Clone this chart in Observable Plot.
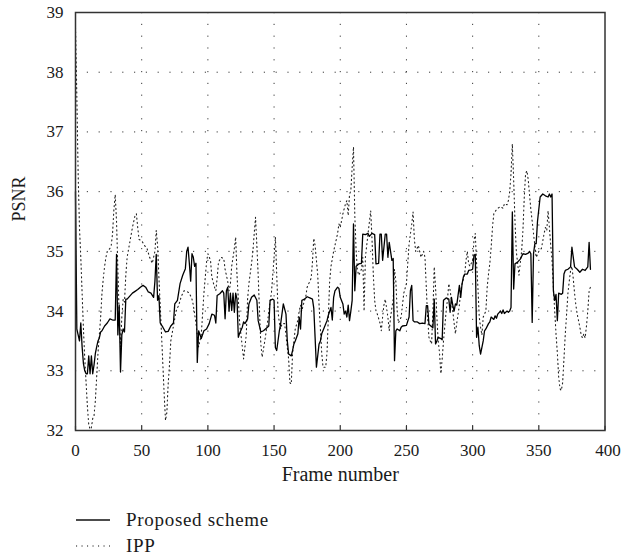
<!DOCTYPE html>
<html>
<head>
<meta charset="utf-8">
<script src="https://cdn.jsdelivr.net/npm/d3@7"></script>
<script src="https://cdn.jsdelivr.net/npm/@observablehq/plot@0.6"></script>
<style>
  body { margin: 0; background: #fff; }
  #wrap { position: relative; width: 622px; height: 560px; font-family: "Liberation Serif", "Times New Roman", serif; color: #1a1a1a; }
  #legend { position: absolute; left: 76px; top: 507px; }
  .row { display: flex; align-items: center; height: 26px; font-size: 19px; letter-spacing: 0.7px; }
  .row svg { margin-right: 16px; }
</style>
</head>
<body>
<div id="wrap">
  <div id="chart"></div>
  <div id="legend"></div>
</div>
<script>
const xTicks = [0, 50, 100, 150, 200, 250, 300, 350, 400];
const yTicks = [32, 33, 34, 35, 36, 37, 38, 39];
const xLabel = "Frame number";
const yLabel = "PSNR";
const seriesNames = ["Proposed scheme", "IPP"];

// [frame, PSNR]
const proposed = [[0,36.0],[1,33.7],[2,33.6],[3,33.5],[4,33.8],[5,33.4],[6,33.12],[7,33.0],[8,32.95],[9,32.95],[10,33.25],[11,32.95],[12,33.25],[13,32.95],[14,33.1],[15,33.29],[16,33.4],[17,33.5],[18,33.55],[19,33.65],[20,33.67],[22,33.75],[24,33.8],[26,33.87],[28,33.85],[30,33.85],[31,34.95],[32,33.6],[33,34.1],[34,32.98],[35,33.6],[36,33.7],[37,33.65],[38,34.2],[39,34.2],[41,34.25],[43,34.3],[45,34.33],[47,34.36],[49,34.4],[51,34.43],[53,34.4],[55,34.32],[57,34.3],[59,34.23],[60,34.5],[61,34.95],[62,34.18],[63,34.26],[64,33.8],[66,33.73],[68,33.65],[70,33.66],[72,33.75],[74,33.8],[75,34.12],[77,34.18],[79,34.46],[81,34.6],[83,34.71],[84,35.0],[85,35.07],[86,34.8],[87,34.5],[88,34.96],[89,34.9],[90,34.75],[91,34.8],[92,33.14],[93,33.67],[95,33.54],[97,33.67],[99,33.7],[101,33.79],[103,33.95],[105,33.93],[106,33.8],[107,34.26],[109,34.29],[111,34.34],[112,34.3],[113,33.87],[114,34.34],[115,34.4],[116,34.0],[117,34.3],[118,34.01],[119,34.3],[120,33.98],[121,34.3],[122,34.2],[123,33.56],[124,33.63],[126,33.73],[127,33.82],[128,33.79],[130,33.87],[131,34.12],[133,34.23],[135,34.27],[137,34.18],[138,33.84],[140,33.65],[142,33.67],[145,33.73],[146,33.75],[147,34.18],[149,34.2],[150,34.18],[151,33.39],[152,33.34],[154,33.67],[155,33.79],[157,34.12],[159,33.95],[160,33.5],[161,33.28],[163,33.25],[164,33.34],[165,33.45],[166,33.5],[168,33.62],[169,33.9],[170,33.7],[171,34.18],[173,34.2],[175,34.24],[177,34.22],[179,34.2],[180,34.05],[181,33.56],[182,33.06],[184,33.45],[185,33.5],[186,33.62],[188,33.73],[190,33.84],[191,33.93],[193,34.06],[194,33.85],[195,34.23],[196,34.34],[198,34.4],[199,34.38],[200,34.23],[202,34.12],[203,33.95],[204,34.0],[205,33.9],[206,34.1],[207,33.84],[208,34.0],[209,34.18],[210,35.46],[211,34.34],[212,34.75],[214,34.79],[216,34.8],[217,35.29],[219,35.28],[221,35.3],[222,35.25],[224,35.3],[226,35.28],[227,34.79],[229,34.8],[230,35.29],[231,35.29],[232,34.85],[234,35.29],[235,35.29],[236,34.9],[237,35.15],[239,34.85],[240,34.88],[241,33.17],[242,33.67],[243,33.7],[245,33.67],[246,33.73],[247,33.75],[250,33.76],[252,33.9],[253,34.34],[254,34.43],[255,33.84],[256,33.82],[258,33.82],[260,33.79],[262,33.8],[264,33.79],[265,34.09],[266,34.09],[267,33.78],[268,33.76],[270,33.72],[271,34.2],[272,33.45],[273,33.5],[274,33.56],[276,33.54],[277,33.52],[278,34.18],[280,34.22],[282,34.2],[283,33.98],[284,34.23],[285,34.1],[286,34.0],[287,34.12],[288,34.1],[290,34.43],[291,34.23],[292,34.45],[293,34.57],[294,34.62],[296,34.62],[297,34.68],[299,34.69],[300,34.7],[301,34.93],[302,34.95],[303,33.56],[304,33.73],[305,33.42],[306,33.28],[308,33.5],[309,33.67],[310,33.7],[312,33.79],[313,33.82],[314,33.9],[316,33.86],[317,33.92],[318,33.88],[319,33.95],[321,34.0],[322,33.96],[323,34.02],[324,33.96],[326,34.0],[327,33.98],[328,34.0],[329,34.06],[330,35.66],[331,34.37],[332,34.79],[334,34.82],[336,34.87],[338,34.96],[340,34.95],[342,34.97],[343,35.0],[344,34.96],[345,33.81],[346,34.96],[347,35.13],[348,35.13],[349,35.5],[351,35.91],[353,35.96],[355,35.93],[357,35.91],[358,35.96],[359,35.91],[360,35.96],[361,34.34],[362,34.18],[363,34.28],[364,33.84],[365,34.3],[367,34.28],[368,34.3],[369,34.62],[370,34.68],[372,34.7],[374,34.74],[375,35.07],[377,34.74],[379,34.7],[381,34.65],[383,34.7],[385,34.68],[387,34.74],[388,35.15],[389,34.7]];

const ipp = [[0,38.75],[1,37.6],[2,36.3],[3,35.4],[4,34.9],[5,34.3],[6,33.7],[7,33.2],[8,32.8],[9,32.4],[10,32.1],[11,32.02],[12,32.05],[13,32.2],[14,32.25],[15,32.5],[16,32.9],[17,33.3],[18,33.6],[19,33.9],[20,34.3],[21,34.55],[22,34.75],[23,34.9],[24,35.0],[26,35.05],[27,35.1],[28,35.3],[29,35.7],[30,35.95],[31,35.5],[32,34.7],[33,33.95],[34,33.4],[35,33.9],[36,34.2],[37,34.15],[38,34.6],[39,34.9],[41,35.15],[43,35.4],[45,35.6],[46,35.63],[47,35.4],[48,35.2],[50,35.18],[52,35.1],[54,35.05],[56,34.9],[58,34.8],[60,35.0],[61,35.35],[62,35.1],[63,34.57],[64,34.1],[65,33.6],[66,33.1],[67,32.6],[68,32.17],[69,32.3],[70,32.78],[71,33.1],[72,33.5],[74,33.75],[76,34.0],[78,34.1],[80,34.25],[82,34.34],[84,34.33],[86,34.3],[88,34.2],[89,34.1],[91,33.8],[93,33.4],[95,33.6],[97,34.3],[99,34.82],[100,34.96],[102,34.85],[103,34.57],[105,34.4],[106,34.34],[107,34.55],[108,34.82],[110,34.9],[112,34.88],[113,34.7],[115,34.5],[116,34.34],[117,34.45],[118,34.75],[120,35.05],[121,35.24],[122,34.6],[123,34.2],[124,33.8],[126,33.4],[127,33.2],[129,33.6],[130,34.2],[131,34.46],[133,34.8],[134,35.0],[135,35.3],[136,35.57],[137,35.1],[138,34.6],[139,34.0],[140,33.45],[141,33.23],[143,33.5],[144,33.65],[145,33.8],[146,34.0],[148,34.3],[149,34.6],[150,34.9],[151,35.24],[152,34.62],[153,34.0],[154,33.8],[155,33.7],[156,33.79],[158,33.79],[160,33.39],[161,33.2],[162,32.8],[163,32.78],[164,33.3],[165,33.5],[166,33.7],[168,33.85],[169,34.0],[170,34.1],[171,34.0],[172,34.1],[174,34.25],[175,34.4],[176,34.45],[178,34.55],[179,34.82],[180,35.22],[181,35.1],[183,34.6],[184,34.1],[185,33.7],[186,33.3],[187,33.06],[189,33.06],[190,33.3],[191,33.9],[192,34.5],[193,34.75],[195,35.0],[196,35.1],[198,35.3],[199,35.46],[200,35.4],[202,35.63],[204,35.8],[205,35.85],[206,35.6],[207,35.95],[208,36.02],[209,36.41],[210,36.75],[211,35.6],[212,35.01],[213,34.68],[214,34.6],[216,34.7],[217,34.9],[218,34.0],[219,34.9],[221,35.3],[223,35.68],[224,35.2],[225,34.6],[226,34.18],[227,34.0],[228,33.95],[230,33.8],[231,33.67],[232,33.9],[233,34.1],[234,34.2],[236,33.9],[237,33.67],[238,33.9],[240,34.2],[241,34.7],[242,34.5],[243,34.0],[244,33.8],[246,33.9],[248,34.3],[250,34.46],[251,34.8],[252,35.13],[254,35.45],[255,35.66],[256,35.2],[257,35.0],[259,35.1],[260,35.0],[261,34.9],[263,35.0],[264,34.9],[265,34.4],[266,33.9],[267,33.56],[268,33.5],[269,33.45],[270,34.0],[271,34.74],[272,34.4],[273,33.9],[274,33.5],[275,33.3],[276,32.95],[277,33.2],[278,33.5],[280,34.0],[281,34.2],[282,34.46],[283,34.35],[285,34.0],[286,33.8],[287,33.62],[288,33.8],[290,34.1],[291,34.34],[292,34.45],[294,34.62],[295,34.85],[296,35.0],[297,34.79],[298,34.75],[300,34.85],[301,35.18],[302,35.3],[303,34.8],[304,34.4],[305,33.9],[306,33.73],[307,33.6],[308,33.9],[310,34.0],[311,34.4],[312,34.62],[313,34.8],[314,35.07],[315,35.4],[316,35.63],[318,35.7],[319,35.72],[321,35.75],[323,35.72],[324,35.8],[326,35.78],[327,35.85],[328,36.0],[329,36.3],[330,36.8],[331,36.2],[332,35.5],[333,35.0],[334,34.8],[335,34.6],[337,35.0],[338,35.35],[339,35.9],[340,36.3],[341,36.35],[342,36.2],[343,35.95],[344,35.7],[346,35.3],[347,35.1],[348,34.9],[350,35.0],[352,35.05],[354,35.3],[355,35.4],[356,35.35],[357,35.68],[358,35.4],[359,35.1],[360,34.85],[361,34.4],[362,34.0],[363,33.62],[364,33.3],[365,32.9],[366,32.7],[367,32.67],[368,32.8],[369,33.2],[370,33.62],[371,33.95],[372,34.3],[373,34.5],[374,34.68],[375,34.75],[376,34.55],[377,34.3],[378,34.1],[379,33.95],[380,33.84],[381,33.73],[382,33.6],[383,33.55],[384,33.62],[385,33.55],[386,33.75],[387,34.0],[388,34.34],[389,34.4]];

const toRows = arr => arr.map(([frame, psnr]) => ({frame, psnr}));

const font = "Liberation Serif";
const gridStyle = {stroke: "#3a3a3a", strokeOpacity: 1, strokeWidth: 1, strokeDasharray: "1.2,10.6"};

const chart = Plot.plot({
  width: 622,
  height: 495,
  marginLeft: 75,
  marginRight: 17.5,
  marginTop: 12,
  marginBottom: 65,
  x: {domain: [xTicks[0], xTicks[xTicks.length - 1]]},
  y: {domain: [yTicks[0], yTicks[yTicks.length - 1]]},
  style: {fontFamily: font, fontSize: "17px", color: "#1a1a1a", background: "white", overflow: "visible"},
  marks: [
    Plot.gridX(xTicks.slice(1, -1), gridStyle),
    Plot.gridY(yTicks.slice(1, -1), gridStyle),
    Plot.line(toRows(ipp), {x: "frame", y: "psnr", stroke: "#222", strokeWidth: 1.1, strokeDasharray: "1.1,3.2"}),
    Plot.line(toRows(proposed), {x: "frame", y: "psnr", stroke: "#000", strokeWidth: 1.3}),
    Plot.ruleX(xTicks, {y1: yTicks[0], y2: yTicks[0] + 0.07, stroke: "#333", strokeWidth: 1.2}),
    Plot.frame({stroke: "#333", strokeWidth: 1.5}),
    Plot.axisX(xTicks.slice(0, -1), {tickSize: 0, tickPadding: 13, label: null, fontSize: 17, tickFormat: "d"}),
    Plot.axisX(xTicks.slice(-1), {tickSize: 0, tickPadding: 13, label: null, fontSize: 17, tickFormat: "d", dx: 3}),
    Plot.axisY(yTicks, {tickSize: 0, tickPadding: 12, label: null, fontSize: 17, tickFormat: "d"}),
    Plot.text([xLabel], {frameAnchor: "bottom", dy: 50, fontSize: 20, fill: "#1a1a1a", style: "letter-spacing:0.7px"}),
    Plot.text([yLabel], {frameAnchor: "left", dx: -56, rotate: -90, fontSize: 18, fill: "#1a1a1a"})
  ]
});
document.getElementById("chart").appendChild(chart);

// legend
const legend = document.getElementById("legend");
const dashes = [null, "1.1,4.4"];
seriesNames.forEach((name, i) => {
  const row = document.createElement("div");
  row.className = "row";
  const dash = dashes[i] ? `stroke-dasharray="${dashes[i]}"` : "";
  row.innerHTML = `<svg width="34" height="4"><line x1="0" x2="34" y1="2" y2="2" stroke="#111" stroke-width="${i ? 1.1 : 1.3}" ${dash}/></svg><span>${name}</span>`;
  legend.appendChild(row);
});
</script>
</body>
</html>
